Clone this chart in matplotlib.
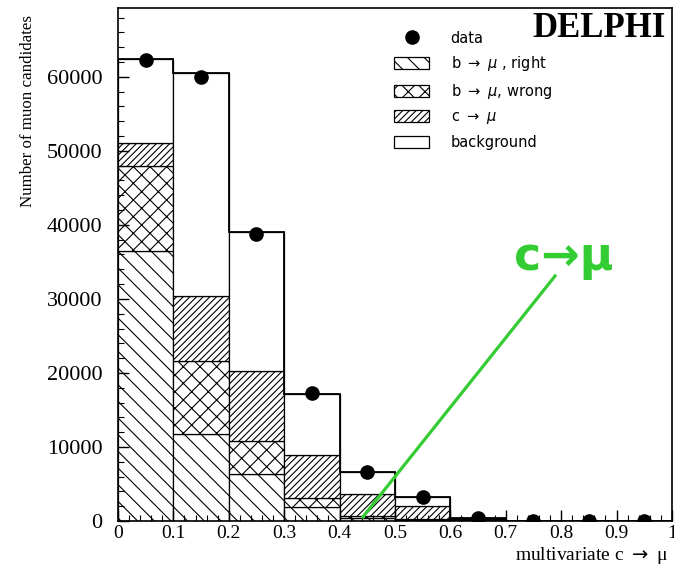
import numpy as np
import matplotlib
matplotlib.use("Agg")
import matplotlib.pyplot as plt
from matplotlib.patches import Patch
from matplotlib.lines import Line2D

plt.rcParams['hatch.linewidth'] = 0.8
plt.rcParams['mathtext.fontset'] = 'dejavusans'

bin_edges = [0.0, 0.1, 0.2, 0.3, 0.4, 0.5, 0.6, 0.7, 0.8, 0.9, 1.0]
b_right = [36500, 11800, 6400, 1900, 450, 150, 40, 10, 5, 2]
b_wrong = [11500, 9800, 4400, 1200, 250, 150, 30, 5, 2, 1]
c_mu = [3000, 8800, 9500, 5800, 2950, 1700, 230, 30, 10, 5]
background = [11400, 30100, 18800, 8300, 2950, 1250, 100, 20, 10, 5]
data = [62300, 60000, 38800, 17300, 6600, 3250, 350, 60, 40, 30]

legend_labels = ["data", r"b $\rightarrow$ $\mu$ , right", r"b $\rightarrow$ $\mu$, wrong",
                 r"c $\rightarrow$ $\mu$", "background"]

serif = ['Liberation Serif', 'DejaVu Serif']

fig = plt.figure(figsize=(6.74, 5.66), dpi=100)
ax = fig.add_axes([0.175, 0.0795, 0.822, 0.9065])

edges = np.array(bin_edges)
left = edges[:-1]
width = np.diff(edges)
centers = left + width / 2

comps = [b_right, b_wrong, c_mu, background]
hatches = ['\\\\', 'xx', '/////', '']
bottom = np.zeros(len(left))
for vals, h in zip(comps, hatches):
    vals = np.array(vals, float)
    ax.bar(left, vals, width=width, bottom=bottom, align='edge', color='white',
           edgecolor='black', linewidth=0.9, hatch=h)
    bottom = bottom + vals

total = bottom
ax.stairs(total, edges, color='black', linewidth=1.3)
ax.plot(centers, data, 'o', color='black', markersize=9.5)

ax.set_xlim(0, 1)
ax.set_ylim(0, 69300)
ax.set_xticks(np.arange(0, 1.01, 0.1))
ax.set_xticklabels(['0', '0.1', '0.2', '0.3', '0.4', '0.5', '0.6', '0.7', '0.8', '0.9', '1'])
ax.set_xticks(np.arange(0, 1.001, 0.02), minor=True)
ax.set_yticks(np.arange(0, 60001, 10000))
ax.set_yticks(np.arange(0, 69001, 2000), minor=True)
ax.tick_params(axis='both', which='major', direction='in', length=8, width=1)
ax.tick_params(axis='x', which='major', labelsize=14, pad=3)
ax.tick_params(axis='y', which='major', labelsize=16, pad=11)
ax.tick_params(axis='both', which='minor', direction='in', length=4, width=0.8)
for lab in ax.get_xticklabels() + ax.get_yticklabels():
    lab.set_family(serif)
for s in ax.spines.values():
    s.set_linewidth(1.2)

ax.set_ylabel("Number of muon candidates", family=serif, fontsize=12.2)
ax.yaxis.set_label_coords(-0.148, 0.80)

fig.text(668 / 674, 1 - 556 / 566, "multivariate c $\\rightarrow$ \u03bc", family=serif,
         fontsize=14, ha='right', va='center')

ax.text(0.989, 0.992, "DELPHI", transform=ax.transAxes, ha='right', va='top',
        family=serif, fontweight='bold', fontsize=25)

handles = [Line2D([], [], marker='o', color='black', linestyle='none', markersize=9.5)]
for h in hatches:
    handles.append(Patch(facecolor='white', edgecolor='black', hatch=h, linewidth=0.9))
ax.legend(handles, legend_labels, loc='upper left', bbox_to_anchor=(0.499, 0.955),
          frameon=False, handlelength=2.4, handleheight=0.9,
          handletextpad=1.45, labelspacing=0.58, borderaxespad=0, borderpad=0,
          prop={'family': 'DejaVu Sans', 'size': 10.5})

green = '#33cc33'
ax.plot([0.442, 0.789], [540, 33100], color=green, linewidth=2.3)
ax.text(0.805, 33900, "c\u2192\u03bc", color=green, fontsize=33,
        fontweight='bold', ha='center', va='baseline', family='DejaVu Sans')

fig.savefig("out.png", dpi=100)
